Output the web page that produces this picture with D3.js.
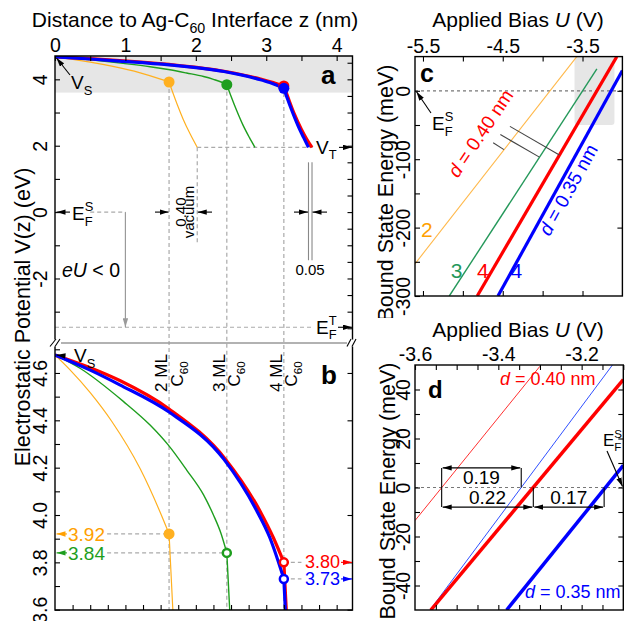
<!DOCTYPE html>
<html>
<head>
<meta charset="utf-8">
<script src="https://cdn.jsdelivr.net/npm/d3@7"></script>
<style>
  body { margin: 0; background: #fff; }
  svg { font-family: "Liberation Sans", Arial, Helvetica, sans-serif; }
</style>
</head>
<body>
<svg id="fig" width="625" height="621"></svg>
<script>
//-------------------------------------------------
// data
//-------------------------------------------------
// panels a / b : electrostatic potential V(z), z in nm, V in eV
var mlNames = ["2", "3", "4"];
var mlZ = [1.62, 2.44, 3.25];          // C60 surface for 2,3,4 ML

// inside the C60 film
var film2ML = [[0, 4.676], [0.21, 4.614], [0.5, 4.517], [0.805, 4.396], [1.21, 4.195], [1.51, 4.0], [1.62, 3.92]];
var film3ML = [[0, 4.676], [0.355, 4.62], [0.97, 4.48], [1.35, 4.38], [1.61, 4.295], [1.87, 4.19],
  [2.11, 4.085], [2.25, 4.0], [2.36, 3.92], [2.44, 3.84]];
var film4ML_040 = [[0, 4.676], [0.5, 4.622], [0.92, 4.568], [1.62, 4.448], [2.42, 4.236], [2.92, 4.012],
  [3.10, 3.905], [3.25, 3.80]];
var film4ML_035 = [[0, 4.676], [0.5, 4.612], [0.92, 4.55], [1.62, 4.435], [2.40, 4.235], [2.87, 4.015],
  [3.05, 3.905], [3.25, 3.73]];
// in the vacuum gap
var vac2ML = [[1.62, 3.92], [1.67, 3.62], [1.74, 3.22], [1.82, 2.80], [1.92, 2.35], [2.02, 1.95]];
var vac3ML = [[2.44, 3.84], [2.50, 3.49], [2.58, 3.06], [2.67, 2.62], [2.76, 2.25], [2.84, 1.95]];
var vac4ML_040 = [[3.25, 3.80], [3.31, 3.45], [3.40, 2.95], [3.50, 2.49], [3.58, 2.18], [3.65, 1.95]];
var vac4ML_035 = [[3.25, 3.73], [3.30, 3.42], [3.38, 2.97], [3.46, 2.56], [3.53, 2.25], [3.60, 1.95]];

var surfV = [3.92, 3.84, 3.80, 3.73];
var surfLabels = ["3.92", "3.84", "3.80", "3.73"];
var VS = 4.676, VT = 1.95, eU = -3.47;
var gapEnd = [2.02, 3.60, 3.65];       // vacuum gap ends (0.40 / 0.35 nm)

// panel c : bound state energy (meV) vs applied bias U (V)
var cOrange = [[-5.6, -253], [-3.572, 50]];
var cGreen  = [[-5.17, -300], [-3.32, 32]];
var cRed    = [[-4.82, -300], [-3.07, 50]];
var cBlue   = [[-4.56, -300], [-3.0, 29.5]];
var cLeaders = [[[-4.41, -52], [-3.79, -94]], [[-4.53, -64], [-4.04, -97]], [[-4.62, -76], [-4.485, -86]]];
var cLineLabels = ["2", "3", "4", "4"];
var cLabelPos = [[-5.45, -203], [-5.08, -263], [-4.75, -263], [-4.33, -263]];

// panel d : zoom of the grey box in c
var dRedThin  = [[-3.6, -13.5], [-3.3, 49.5]];
var dBlueThin = [[-3.564, -50], [-3.126, 50]];
var dRed      = [[-3.562, -50], [-3.1, 44]];
var dBlue     = [[-3.38, -50], [-3.1, 9]];
var dZero = [-3.536, -3.345, -3.316, -3.146];
var dGaps = ["0.19", "0.22", "0.17"];

//-------------------------------------------------
var ORANGE = "#ffb020", GREEN = "#1e9e1e", RED = "#ff0000", BLUE = "#0000ff";
var ORANGE_T = "#ffa000", GREEN_C = "#24985a";
var TICK_FS = "19.5px";

var svg = d3.select("#fig");
var defs = svg.append("defs");

// scales
var xz = d3.scaleLinear().domain([0, 4.225]).range([55, 352.5]);
var ya = d3.scaleLinear().domain([-3.95, 4.7]).range([343.2, 56.1]);
var yb = d3.scaleLinear().domain([3.6, 4.73]).range([609.7, 342.2]);
var xc = d3.scaleLinear().domain([-5.6, -3.0]).range([415, 622.4]);
var yc = d3.scaleLinear().domain([-300, 50]).range([296, 56.6]);
var xd = d3.scaleLinear().domain([-3.6, -3.1]).range([415, 623.3]);
var yd = d3.scaleLinear().domain([-50, 50]).range([610, 365]);

function clip(id, x, y, w, h) {
  defs.append("clipPath").attr("id", id).append("rect")
    .attr("x", x).attr("y", y).attr("width", w).attr("height", h);
}
clip("clipA", 55, 56, 297.5, 287);
clip("clipB", 55, 343, 297.5, 267);
clip("clipC", 415, 56.6, 207.4, 239.4);
clip("clipD", 415, 365, 208.3, 245);
clip("clipCtext", 340, 0, 285, 318);

function marker(id, color) {
  defs.append("marker").attr("id", id)
    .attr("viewBox", "0 0 10 6").attr("refX", 10).attr("refY", 3)
    .attr("markerWidth", 9).attr("markerHeight", 5.4)
    .attr("markerUnits", "userSpaceOnUse").attr("orient", "auto-start-reverse")
    .append("path").attr("d", "M0,0L10,3L0,6z").attr("fill", color);
}
var arrowColors = { k: "#000", g: "#9a9a9a", o: ORANGE_T, gr: GREEN, r: RED, b: BLUE };
Object.keys(arrowColors).forEach(function (k) { marker("ar_" + k, arrowColors[k]); });

function arrow(g, x1, y1, x2, y2, c, both, w) {
  var l = g.append("line").attr("x1", x1).attr("y1", y1).attr("x2", x2).attr("y2", y2)
    .attr("stroke", arrowColors[c]).attr("stroke-width", w || 1.1)
    .attr("marker-end", "url(#ar_" + c + ")");
  if (both) l.attr("marker-start", "url(#ar_" + c + ")");
  return l;
}

function dashed(g, x1, y1, x2, y2, color) {
  return g.append("line").attr("x1", x1).attr("y1", y1).attr("x2", x2).attr("y2", y2)
    .attr("stroke", color || "#aaa").attr("stroke-width", 1.2).attr("stroke-dasharray", "4,3");
}

// text with italic / sub / sup parts
function rich(g, x, y, parts, size, fill, anchor, transform) {
  var t = g.append("text").attr("x", x).attr("y", y).style("font-size", size + "px").attr("fill", fill || "#000");
  if (anchor) t.attr("text-anchor", anchor);
  if (transform) t.attr("transform", transform);
  var shift = 0;
  parts.forEach(function (p) {
    var k = p[1] || "";
    var target = k == "sub" ? size * 0.3 : (k == "sup" ? -size * 0.42 : 0);
    var ts = t.append("tspan").text(p[0]).attr("dy", target - shift);
    shift = target;
    if (k == "sub" || k == "sup") ts.style("font-size", (size * 0.68) + "px");
    if (k == "it") ts.style("font-style", "italic");
  });
  return t;
}

function efLabel(g, x, y, sup, size) {
  var t = g.append("text").attr("x", x).attr("y", y).style("font-size", size + "px").text("E");
  var w = t.node().getComputedTextLength();
  g.append("text").attr("x", x + w).attr("y", y - size * 0.45).style("font-size", (size * 0.68) + "px").text(sup);
  g.append("text").attr("x", x + w).attr("y", y + size * 0.3).style("font-size", (size * 0.68) + "px").text("F");
}

function axis(g, gen, tx, ty) {
  var a = g.append("g").attr("transform", "translate(" + tx + "," + ty + ")").call(gen);
  a.attr("font-family", null).attr("font-size", null);
  a.select(".domain").remove();
  a.selectAll("line").attr("stroke", "#000").attr("stroke-width", 1.1);
  a.selectAll("text").style("font-size", TICK_FS).attr("fill", "#000");
  return a;
}
function rotLeft(a, off) {
  a.selectAll("text").attr("transform", "rotate(-90)").attr("x", 0).attr("y", -off)
    .attr("dy", 0).attr("text-anchor", "middle");
}
function fmt(list, f) {
  return function (d) { return list.indexOf(d) >= 0 ? (f ? f(d) : String(d)) : ""; };
}

//-------------------------------------------------
// panels a and b
//-------------------------------------------------
var gAB = svg.append("g");

// grey band = range shown in b
gAB.append("rect").attr("x", 55).attr("y", ya(4.7)).attr("width", 297.5)
  .attr("height", ya(3.6) - ya(4.7)).attr("fill", "#e6e6e6");

// dashed guide lines
var guides = gAB.append("g");
mlZ.forEach(function (z, i) {
  dashed(guides, xz(z), ya(surfV[i]), xz(z), 610);
});
dashed(guides, xz(gapEnd[0]), ya(VT), xz(3.66), ya(VT));
dashed(guides, xz(gapEnd[0]), ya(VT), xz(gapEnd[0]), ya(-1.0));
dashed(guides, 55, ya(eU), xz(3.66), ya(eU));
dashed(guides, xz(0.5), ya(0), xz(1.0), ya(0));
arrow(guides, xz(1.0), ya(0), xz(1.0), ya(eU), "g", false, 1.2);

// 0.05 double line
[gapEnd[1], gapEnd[2]].forEach(function (z) {
  guides.append("line").attr("x1", xz(z)).attr("x2", xz(z)).attr("y1", ya(1.5)).attr("y2", ya(-1.45))
    .attr("stroke", "#888").attr("stroke-width", 1.1);
});

// break line between a and b
gAB.append("line").attr("x1", 61).attr("x2", 347).attr("y1", 343).attr("y2", 343)
  .attr("stroke", "#999").attr("stroke-width", 1.3);

// b : horizontal dashed to labels
dashed(guides, xz(0.74), yb(surfV[0]), xz(mlZ[0]), yb(surfV[0]));
dashed(guides, xz(0.74), yb(surfV[1]), xz(mlZ[1]), yb(surfV[1]));
dashed(guides, xz(mlZ[2]), yb(surfV[2]), xz(3.5), yb(surfV[2]));
dashed(guides, xz(mlZ[2]), yb(surfV[3]), xz(3.5), yb(surfV[3]));

var potSeries = [
  { film: film2ML, vac: vac2ML, color: ORANGE, w: 1.2, ml: 0, v: 0 },
  { film: film3ML, vac: vac3ML, color: GREEN, w: 1.4, ml: 1, v: 1 },
  { film: film4ML_040, vac: vac4ML_040, color: RED, w: 3.2, ml: 2, v: 2 },
  { film: film4ML_035, vac: vac4ML_035, color: BLUE, w: 3.2, ml: 2, v: 3 }
];

function drawPot(yScale, clipId, openDots) {
  var g = gAB.append("g").attr("clip-path", "url(#" + clipId + ")");
  var line = d3.line().x(function (d) { return xz(d[0]); }).y(function (d) { return yScale(d[1]); })
    .curve(d3.curveMonotoneX);
  potSeries.forEach(function (s) {
    [s.film, s.vac].forEach(function (pts) {
      g.append("path").attr("d", line(pts)).attr("fill", "none")
        .attr("stroke", s.color).attr("stroke-width", s.w).attr("stroke-linejoin", "round");
    });
  });
  g.selectAll("circle.dot").data(potSeries).enter().append("circle")
    .attr("class", "dot")
    .attr("cx", function (s) { return xz(mlZ[s.ml]); })
    .attr("cy", function (s) { return yScale(surfV[s.v]); })
    .attr("r", function (s, i) { return openDots && i > 0 ? 4 : 5.5; })
    .attr("fill", function (s, i) { return openDots && i > 0 ? "#fff" : s.color; })
    .attr("stroke", function (s) { return s.color; })
    .attr("stroke-width", function (s, i) { return openDots && i > 0 ? 2.5 : 0; });
}
drawPot(ya, "clipA", false);
drawPot(yb, "clipB", true);

// frame with axis break
var frame = gAB.append("g").attr("stroke", "#000").attr("stroke-width", 1.4).attr("fill", "none");
frame.append("path").attr("d", "M55,339.5V56H352.5V339.5");
frame.append("path").attr("d", "M55,346.5V610H352.5V346.5");
[[50, 56], [55, 60], [347, 351], [352, 356]].forEach(function (p) {
  frame.append("line").attr("x1", p[0]).attr("y1", 346.5).attr("x2", p[1]).attr("y2", 339)
    .attr("stroke-width", 1.1);
});

// axes a
axis(gAB, d3.axisTop(xz).tickValues(d3.range(0, 9).map(function (d) { return d / 2; }))
  .tickSize(-5).tickPadding(4).tickFormat(fmt([0, 1, 2, 3, 4])), 0, 56);
var leftA = axis(gAB, d3.axisLeft(ya).tickValues([-3, -2, -1, 0, 1, 2, 3, 4]).tickSize(-5)
  .tickFormat(fmt([-2, 0, 2, 4])), 55, 0);
rotLeft(leftA, 8);
axis(gAB, d3.axisRight(ya).tickValues(d3.range(-7, 10).map(function (d) { return d / 2; }))
  .tickSize(-5).tickFormat(""), 352.5, 0);
// axes b
var bLab = [36, 38, 40, 42, 44, 46].map(function (d) { return d / 10; });
var leftB = axis(gAB, d3.axisLeft(yb).tickValues(d3.range(36, 48).map(function (d) { return d / 10; }))
  .tickSize(-5).tickFormat(fmt(bLab, function (d) { return d.toFixed(1); })), 55, 0);
rotLeft(leftB, 8);
axis(gAB, d3.axisRight(yb).tickValues(bLab).tickSize(-5).tickFormat(""), 352.5, 0);
axis(gAB, d3.axisBottom(xz).tickValues(d3.range(1, 17).map(function (d) { return d / 4; }))
  .tickSize(-5).tickFormat(""), 0, 610);

// texts a
rich(gAB, 195, 26.5, [["Distance to Ag-C"], ["60", "sub"], [" Interface z (nm)"]], 21, "#000", "middle");
gAB.append("text").attr("transform", "translate(30,317) rotate(-90)").attr("text-anchor", "middle")
  .style("font-size", "21.5px").text("Electrostatic Potential V(z) (eV)");
gAB.append("text").attr("x", 321).attr("y", 83.5).style("font-size", "26px").style("font-weight", "bold").text("a");
gAB.append("text").attr("x", 321).attr("y", 383.5).style("font-size", "26px").style("font-weight", "bold").text("b");

arrow(gAB, 70, 75, 56.5, 58, "k");
rich(gAB, 71, 89, [["V"], ["S", "sub"]], 19);
rich(gAB, 316, 153.5, [["V"], ["T", "sub"]], 19);
arrow(gAB, 339, ya(VT), 352, ya(VT), "k");
efLabel(gAB, 316, 333.5, "T", 19);
arrow(gAB, 338, ya(eU), 352, ya(eU), "k");
arrow(gAB, 70, ya(0), 56.5, ya(0), "k");
efLabel(gAB, 72, 220, "S", 19);
rich(gAB, 62, 277, [["e", "it"], ["U", "it"], [" < 0"]], 19.5);

// vacuum gap labels
arrow(gAB, 155, ya(0), xz(mlZ[0]) - 0.5, ya(0), "k");
arrow(gAB, 212, ya(0), xz(gapEnd[0]) + 0.5, ya(0), "k");
gAB.append("text").attr("transform", "translate(185.5," + ya(0) + ") rotate(-90)")
  .attr("text-anchor", "middle").style("font-size", "15px").text("0.40");
gAB.append("text").attr("transform", "translate(194," + ya(0) + ") rotate(-90)")
  .attr("text-anchor", "middle").style("font-size", "15px").text("vacuum");
arrow(gAB, 294, ya(0), xz(gapEnd[1]) - 0.5, ya(0), "k");
arrow(gAB, 327, ya(0), xz(gapEnd[2]) + 0.5, ya(0), "k");
gAB.append("text").attr("x", 310).attr("y", 275).attr("text-anchor", "middle").style("font-size", "15px").text("0.05");

// texts b
arrow(gAB, 66, 356, 56.5, yb(VS), "k");
rich(gAB, 74, 362, [["V"], ["S", "sub"]], 19);
mlZ.forEach(function (z, i) {
  var x0 = xz(z);
  gAB.append("text").attr("transform", "translate(" + (x0 - 2) + ",373) rotate(-90)")
    .attr("text-anchor", "middle").style("font-size", "17px").text(mlNames[i] + " ML");
  rich(gAB, 0, 0, [["C"], ["60", "sub"]], 17, "#000", "middle",
    "translate(" + (x0 + 13.5) + ",374) rotate(-90)");
});
var valColors = [ORANGE_T, GREEN, RED, BLUE];
var valArrow = ["o", "gr", "r", "b"];
surfV.forEach(function (v, i) {
  var y = yb(v);
  if (i < 2) {
    gAB.append("text").attr("x", 68).attr("y", y + 7).style("font-size", "19px")
      .attr("fill", valColors[i]).text(surfLabels[i]);
    arrow(gAB, 67, y, 56.5, y, valArrow[i]);
  } else {
    gAB.append("text").attr("x", 305).attr("y", y + 6).style("font-size", "18px")
      .attr("fill", valColors[i]).text(surfLabels[i]);
    arrow(gAB, 341, y, 352, y, valArrow[i]);
  }
});

//-------------------------------------------------
// panel c
//-------------------------------------------------
var gC = svg.append("g");
gC.append("rect").attr("x", xc(-3.6)).attr("y", yc(50)).attr("width", xc(-3.1) - xc(-3.6))
  .attr("height", yc(-50) - yc(50)).attr("rx", 3).attr("fill", "#e6e6e6");
var cPlot = gC.append("g").attr("clip-path", "url(#clipC)");
cPlot.append("line").attr("x1", xc(-5.6)).attr("x2", xc(-3.0)).attr("y1", yc(0)).attr("y2", yc(0))
  .attr("stroke", "#777").attr("stroke-width", 1.2).attr("stroke-dasharray", "3,3");
var lineC = d3.line().x(function (d) { return xc(d[0]); }).y(function (d) { return yc(d[1]); });
var cSeries = [
  { pts: cOrange, color: "#ffb84a", w: 1.1, text: ORANGE_T },
  { pts: cGreen, color: GREEN_C, w: 1.4, text: GREEN_C },
  { pts: cRed, color: RED, w: 3.2, text: RED },
  { pts: cBlue, color: BLUE, w: 3.2, text: BLUE }
];
cPlot.selectAll("path.bl").data(cSeries).enter().append("path").attr("class", "bl")
  .attr("d", function (s) { return lineC(s.pts); }).attr("fill", "none")
  .attr("stroke", function (s) { return s.color; }).attr("stroke-width", function (s) { return s.w; });
cPlot.selectAll("path.ld").data(cLeaders).enter().append("path").attr("class", "ld")
  .attr("d", function (s) { return lineC(s); }).attr("stroke", "#444").attr("stroke-width", 1.1);

gC.append("rect").attr("x", 415).attr("y", 56.6).attr("width", 207.4).attr("height", 239.4)
  .attr("fill", "none").attr("stroke", "#000").attr("stroke-width", 1.4);

var cTxt = gC.append("g").attr("clip-path", "url(#clipCtext)");
axis(cTxt, d3.axisTop(xc).tickValues([-5.5, -5, -4.5, -4, -3.5])
  .tickSize(-5).tickPadding(4).tickFormat(fmt([-5.5, -4.5, -3.5], function (d) { return d.toFixed(1); })), 0, 56.6);
axis(cTxt, d3.axisBottom(xc).tickValues([-5.5, -5, -4.5, -4, -3.5]).tickSize(-5).tickFormat(""), 0, 296);
var leftC = axis(cTxt, d3.axisLeft(yc).tickValues(d3.range(-6, 1).map(function (d) { return d * 50; }))
  .tickSize(-5).tickFormat(fmt([0, -100, -200, -300])), 415, 0);
rotLeft(leftC, 5);
axis(cTxt, d3.axisRight(yc).tickValues([0, -100, -200]).tickSize(-5).tickFormat(""), 622.4, 0);
rich(cTxt, 518, 27, [["Applied Bias "], ["U", "it"], [" (V)"]], 21, "#000", "middle");
cTxt.append("text").attr("transform", "translate(393,193) rotate(-90)").attr("text-anchor", "middle")
  .style("font-size", "21.5px").text("Bound State Energy (meV)");
gC.append("text").attr("x", 420).attr("y", 81.7).style("font-size", "25px").style("font-weight", "bold").text("c");

arrow(gC, 431, 113, 416.5, yc(0) + 1, "k");
efLabel(gC, 432, 130, "S", 19);

cLabelPos.forEach(function (p, i) {
  gC.append("text").attr("x", xc(p[0])).attr("y", yc(p[1]) + 7.5).attr("text-anchor", "middle")
    .style("font-size", "21px").attr("fill", cSeries[i].text).text(cLineLabels[i]);
});

rich(gC, 0, 0, [["d", "it"], [" = 0.40 nm"]], 19, RED, "middle", "translate(486,137) rotate(-56)");
rich(gC, 0, 0, [["d", "it"], [" = 0.35 nm"]], 19, BLUE, "middle", "translate(574,193) rotate(-61)");

//-------------------------------------------------
// panel d
//-------------------------------------------------
var gD = svg.append("g");
var dPlot = gD.append("g").attr("clip-path", "url(#clipD)");
dPlot.append("line").attr("x1", xd(-3.6)).attr("x2", xd(-3.1)).attr("y1", yd(0)).attr("y2", yd(0))
  .attr("stroke", "#777").attr("stroke-width", 1.2).attr("stroke-dasharray", "3,3");
var lineD = d3.line().x(function (d) { return xd(d[0]); }).y(function (d) { return yd(d[1]); });
var dSeries = [
  { pts: dRedThin, color: "#ff3030", w: 1 },
  { pts: dBlueThin, color: "#3050ff", w: 1 },
  { pts: dRed, color: RED, w: 3.5 },
  { pts: dBlue, color: BLUE, w: 3.5 }
];
dPlot.selectAll("path.bl").data(dSeries).enter().append("path").attr("class", "bl")
  .attr("d", function (s) { return lineD(s.pts); }).attr("fill", "none")
  .attr("stroke", function (s) { return s.color; }).attr("stroke-width", function (s) { return s.w; });

// spacing annotations
var ann = gD.append("g").attr("stroke", "#000").attr("stroke-width", 1.1);
var yTop = yd(8), yBot = yd(-8), y0 = yd(0);
ann.append("line").attr("x1", xd(dZero[0])).attr("x2", xd(dZero[0])).attr("y1", yTop).attr("y2", yBot);
ann.append("line").attr("x1", xd(dZero[1])).attr("x2", xd(dZero[1])).attr("y1", yTop).attr("y2", y0);
ann.append("line").attr("x1", xd(dZero[2])).attr("x2", xd(dZero[2])).attr("y1", y0).attr("y2", yBot);
ann.append("line").attr("x1", xd(dZero[3])).attr("x2", xd(dZero[3])).attr("y1", y0).attr("y2", yBot);
arrow(gD, xd(dZero[0]) + 1, yTop, xd(dZero[1]) - 1, yTop, "k", true);
arrow(gD, xd(dZero[0]) + 1, yBot, xd(dZero[2]) - 1, yBot, "k", true);
arrow(gD, xd(dZero[2]) + 1, yBot, xd(dZero[3]) - 1, yBot, "k", true);
gD.append("text").attr("x", (xd(dZero[0]) + xd(dZero[1])) / 2).attr("y", yd(1.5))
  .attr("text-anchor", "middle").style("font-size", "19px").text(dGaps[0]);
gD.append("text").attr("x", (xd(dZero[0]) + xd(dZero[2])) / 2).attr("y", yd(-6.6))
  .attr("text-anchor", "middle").style("font-size", "19px").text(dGaps[1]);
gD.append("text").attr("x", (xd(dZero[2]) + xd(dZero[3])) / 2).attr("y", yd(-6.6))
  .attr("text-anchor", "middle").style("font-size", "19px").text(dGaps[2]);

gD.append("rect").attr("x", 415).attr("y", 365).attr("width", 208.3).attr("height", 245)
  .attr("fill", "none").attr("stroke", "#000").attr("stroke-width", 1.4);

axis(gD, d3.axisTop(xd).tickValues(d3.range(-72, -61).map(function (d) { return d / 20; }))
  .tickSize(-5).tickPadding(4).tickFormat(fmt([-3.6, -3.4, -3.2], function (d) { return d.toFixed(1); })), 0, 365);
axis(gD, d3.axisBottom(xd).tickValues(d3.range(-71, -62).map(function (d) { return d / 20; }))
  .tickSize(-5).tickFormat(""), 0, 610);
var leftD = axis(gD, d3.axisLeft(yd).tickValues(d3.range(-40, 50, 10)).tickSize(-5)
  .tickFormat(fmt([-40, -20, 0, 20, 40])), 415, 0);
rotLeft(leftD, 5);
axis(gD, d3.axisRight(yd).tickValues(d3.range(-40, 50, 10)).tickSize(-5).tickFormat(""), 623.3, 0);
rich(gD, 518, 337, [["Applied Bias "], ["U", "it"], [" (V)"]], 21, "#000", "middle");
gD.append("text").attr("transform", "translate(395,491) rotate(-90)").attr("text-anchor", "middle")
  .style("font-size", "21.5px").text("Bound State Energy (meV)");
gD.append("text").attr("x", 428).attr("y", 398.3).style("font-size", "24px").style("font-weight", "bold").text("d");

rich(gD, 500, 385, [["d", "it"], [" = 0.40 nm"]], 18, RED);
rich(gD, 525, 598, [["d", "it"], [" = 0.35 nm"]], 18, BLUE);
efLabel(gD, 603, 446, "S", 17);
arrow(gD, 607, 451, 622.5, yd(0) - 1, "k");
</script>
</body>
</html>
